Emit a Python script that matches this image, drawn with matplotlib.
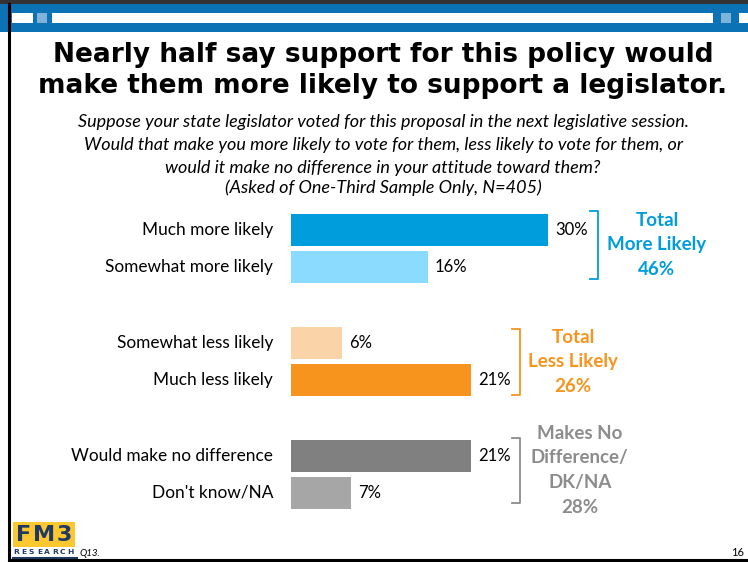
import matplotlib
matplotlib.use("Agg")
import matplotlib.pyplot as plt
from matplotlib.patches import Rectangle

# data
categories = ["Much more likely", "Somewhat more likely",
              "Somewhat less likely", "Much less likely",
              "Would make no difference", "Don't know/NA"]
values = [30, 16, 6, 21, 21, 7]
groups = [0, 0, 1, 1, 2, 2]
bar_colors = ["#009ddc", "#8adbff", "#fad4a8", "#f7941d", "#808080", "#a6a6a6"]

total_labels = ["Total\nMore Likely\n46%", "Total\nLess Likely\n26%",
                "Makes No\nDifference/\nDK/NA\n28%"]
total_colors = ["#009ddc", "#f7941d", "#8c8c8c"]

title_lines = ["Nearly half say support for this policy would",
               "make them more likely to support a legislator."]
subtitle_lines = ["Suppose your state legislator voted for this proposal in the next legislative session.",
                  "Would that make you more likely to vote for them, less likely to vote for them, or",
                  "would it make no difference in your attitude toward them?",
                  "(Asked of One-Third Sample Only, N=405)"]

W, H = 748, 562
body = "Lato"
navy = "#1f3864"


def fx(x):
    return x / W


def fy(y):
    return 1 - y / H


fig = plt.figure(figsize=(W / 100, H / 100), dpi=100)

# header band
fig.patches.append(Rectangle((0, fy(4)), 1, 1 - fy(4), transform=fig.transFigure, color="#333333", lw=0))
fig.patches.append(Rectangle((fx(0), fy(32)), 1, fy(4) - fy(32), transform=fig.transFigure, color="#0b72b5", lw=0))
for x0, x1, c in [(12, 33, "white"), (37, 47, "#7fb3da"), (52, 713, "white"),
                  (721, 731, "#7fb3da"), (739, 748, "white")]:
    fig.patches.append(Rectangle((fx(x0), fy(23)), fx(x1) - fx(x0), fy(13) - fy(23),
                                 transform=fig.transFigure, color=c, lw=0))
# frame lines
fig.add_artist(plt.Line2D([fx(9), fx(9)], [fy(4), fy(560)], color="black", lw=2.2))
fig.add_artist(plt.Line2D([fx(9), 1], [fy(560), fy(560)], color="black", lw=2.2))

# titles
for line, yb in zip(title_lines, [62, 93]):
    fig.text(fx(383), fy(yb), line, ha="center", va="baseline", fontsize=19,
             fontweight="bold", family="DejaVu Sans")
for line, yc in zip(subtitle_lines, [122, 145, 168, 188]):
    fig.text(fx(383), fy(yc), line, ha="center", va="center", fontsize=13,
             style="italic", family=body)

# bars
ax = fig.add_axes([fx(291), fy(511), fx(291 + 8.57 * 50) - fx(291), fy(211.5) - fy(511)])
pos = [i + g * 1.05 for i, g in enumerate(groups)]
ax.barh(pos, values, height=0.865, color=bar_colors)
ax.set_xlim(0, 50)
ax.set_ylim(7.6, -0.5)
ax.axis("off")

for p, v, lab in zip(pos, values, categories):
    ax.annotate(f"{v}%", (v, p), xytext=(5, 0), textcoords="offset points",
                va="center", ha="left", fontsize=12, family=body)
    ax.annotate(lab, (0, p), xytext=(-13, 0), textcoords="offset points",
                va="center", ha="right", fontsize=12.4, family=body)

# brackets and totals
brackets = [(35.8, -0.51, 1.32), (26.7, 2.68, 4.46), (26.7, 5.62, 7.38)]
text_x = [42.7, 32.9, 33.7]
for (bx, y0, y1), tx, lab, c in zip(brackets, text_x, total_labels, total_colors):
    ax.plot([bx - 0.9, bx, bx, bx - 0.9], [y0, y0, y1, y1], color=c, lw=1.3,
            clip_on=False, solid_joinstyle="round")
    ax.text(tx, (y0 + y1) / 2, lab, ha="center", va="center", fontsize=13.5,
            fontweight="bold", color=c, family=body, linespacing=1.55)

# logo and footer
fig.patches.append(Rectangle((fx(13), fy(547)), fx(75) - fx(13), fy(522) - fy(547),
                             transform=fig.transFigure, color="#fdc82f", lw=0))
for ch, xc in zip("FM3", [24, 44, 64]):
    fig.text(fx(xc), fy(535), ch, ha="center", va="center", fontsize=16,
             fontweight="bold", color=navy, family="DejaVu Sans")
for k, ch in enumerate("RESEARCH"):
    fig.text(fx(16 + k * 7.8), fy(552), ch, ha="center", va="center", fontsize=5.4,
             fontweight="bold", color=navy, family="DejaVu Sans")
fig.add_artist(plt.Line2D([fx(13), fx(77)], [fy(558), fy(558)], color=navy, lw=1.5))
fig.text(fx(80), fy(553), "Q13.", ha="left", va="center", fontsize=7,
         style="italic", family=body)
fig.text(fx(744), fy(552), "16", ha="right", va="center", fontsize=8, family=body)

fig.savefig("out.png", dpi=100)
